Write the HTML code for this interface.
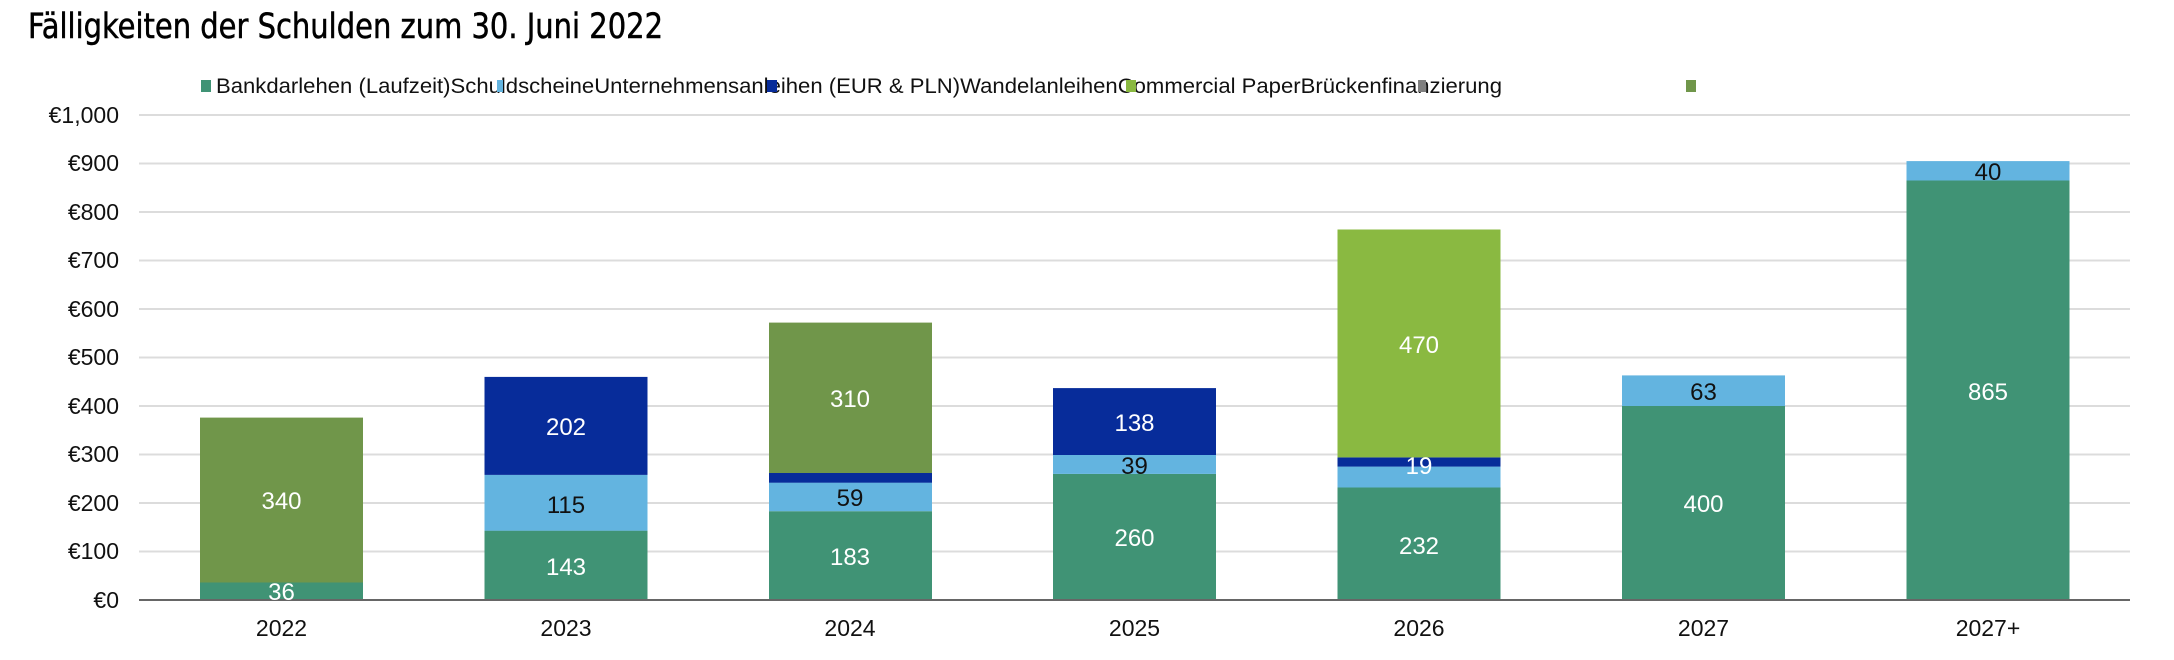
<!DOCTYPE html>
<html><head><meta charset="utf-8"><style>body{margin:0;background:#fff}svg{display:block}</style></head>
<body>
<svg width="2174" height="660" xmlns="http://www.w3.org/2000/svg" font-family="Liberation Sans Narrow, Liberation Sans, sans-serif">
<rect width="2174" height="660" fill="#fff"/>
<text x="28" y="38" font-family="DejaVu Sans Condensed, DejaVu Sans, sans-serif" font-size="35" textLength="635" lengthAdjust="spacingAndGlyphs" fill="#000" stroke="#000" stroke-width="0.5">Fälligkeiten der Schulden zum 30. Juni 2022</text>
<text x="216" y="93" font-size="21" textLength="1286" lengthAdjust="spacingAndGlyphs" fill="#111">Bankdarlehen (Laufzeit)SchuldscheineUnternehmensanleihen (EUR &amp; PLN)WandelanleihenCommercial PaperBrückenfinanzierung</text>
<rect x="201" y="80" width="10" height="12" fill="#409375"/>
<rect x="497" y="80" width="6" height="12" fill="#63b4e0"/>
<rect x="767" y="80" width="10" height="12" fill="#072c9a"/>
<rect x="1126" y="80" width="10" height="12" fill="#8ab941"/>
<rect x="1418" y="80" width="8" height="12" fill="#7f7f7f"/>
<rect x="1686" y="80" width="10" height="12" fill="#70964a"/>
<g stroke="#dcdcdc" stroke-width="2">
<line x1="139" x2="2130" y1="115" y2="115"/><line x1="139" x2="2130" y1="163.5" y2="163.5"/>
<line x1="139" x2="2130" y1="212" y2="212"/><line x1="139" x2="2130" y1="260.5" y2="260.5"/>
<line x1="139" x2="2130" y1="309" y2="309"/><line x1="139" x2="2130" y1="357.5" y2="357.5"/>
<line x1="139" x2="2130" y1="406" y2="406"/><line x1="139" x2="2130" y1="454.5" y2="454.5"/>
<line x1="139" x2="2130" y1="503" y2="503"/><line x1="139" x2="2130" y1="551.5" y2="551.5"/>
</g>
<g font-size="23" text-anchor="end" fill="#111">
<text x="119" y="123">€1,000</text><text x="119" y="171">€900</text><text x="119" y="220">€800</text>
<text x="119" y="268">€700</text><text x="119" y="317">€600</text><text x="119" y="365">€500</text>
<text x="119" y="414">€400</text><text x="119" y="462">€300</text><text x="119" y="511">€200</text>
<text x="119" y="559">€100</text><text x="119" y="608">€0</text>
</g>
<g>
<rect x="200" y="582.5" width="163" height="17.5" fill="#409375"/>
<rect x="200" y="417.6" width="163" height="164.9" fill="#70964a"/>
<rect x="484.5" y="530.6" width="163" height="69.4" fill="#409375"/>
<rect x="484.5" y="474.9" width="163" height="55.8" fill="#63b4e0"/>
<rect x="484.5" y="376.9" width="163" height="98" fill="#072c9a"/>
<rect x="769" y="511.2" width="163" height="88.8" fill="#409375"/>
<rect x="769" y="482.6" width="163" height="28.6" fill="#63b4e0"/>
<rect x="769" y="473" width="163" height="9.7" fill="#072c9a"/>
<rect x="769" y="322.6" width="163" height="150.4" fill="#70964a"/>
<rect x="1053" y="473.9" width="163" height="126.1" fill="#409375"/>
<rect x="1053" y="455" width="163" height="18.9" fill="#63b4e0"/>
<rect x="1053" y="388.1" width="163" height="66.9" fill="#072c9a"/>
<rect x="1337.5" y="487.5" width="163" height="112.5" fill="#409375"/>
<rect x="1337.5" y="466.6" width="163" height="20.9" fill="#63b4e0"/>
<rect x="1337.5" y="457.4" width="163" height="9.2" fill="#072c9a"/>
<rect x="1337.5" y="229.5" width="163" height="227.9" fill="#8ab941"/>
<rect x="1622" y="406" width="163" height="194" fill="#409375"/>
<rect x="1622" y="375.4" width="163" height="30.6" fill="#63b4e0"/>
<rect x="1906.5" y="180.5" width="163" height="419.5" fill="#409375"/>
<rect x="1906.5" y="161.1" width="163" height="19.4" fill="#63b4e0"/>
</g>
<line x1="139" x2="2130" y1="600" y2="600" stroke="#666" stroke-width="2"/>
<g font-size="24" text-anchor="middle">
<text x="281.5" y="600" fill="#fff">36</text>
<text x="281.5" y="509" fill="#fff">340</text>
<text x="566" y="575" fill="#fff">143</text>
<text x="566" y="513" fill="#111">115</text>
<text x="566" y="435" fill="#fff">202</text>
<text x="850" y="565" fill="#fff">183</text>
<text x="850" y="506" fill="#111">59</text>
<text x="850" y="407" fill="#fff">310</text>
<text x="1134.5" y="546" fill="#fff">260</text>
<text x="1134.5" y="474" fill="#111">39</text>
<text x="1134.5" y="431" fill="#fff">138</text>
<text x="1419" y="554" fill="#fff">232</text>
<text x="1419" y="474" fill="#fff">19</text>
<text x="1419" y="353" fill="#fff">470</text>
<text x="1703.5" y="512" fill="#fff">400</text>
<text x="1703.5" y="400" fill="#111">63</text>
<text x="1988" y="400" fill="#fff">865</text>
<text x="1988" y="180" fill="#111">40</text>
</g>
<g font-size="23" text-anchor="middle" fill="#111">
<text x="281.5" y="636">2022</text><text x="566" y="636">2023</text><text x="850" y="636">2024</text>
<text x="1134.5" y="636">2025</text><text x="1419" y="636">2026</text><text x="1703.5" y="636">2027</text>
<text x="1988" y="636">2027+</text>
</g>
</svg>
</body></html>
